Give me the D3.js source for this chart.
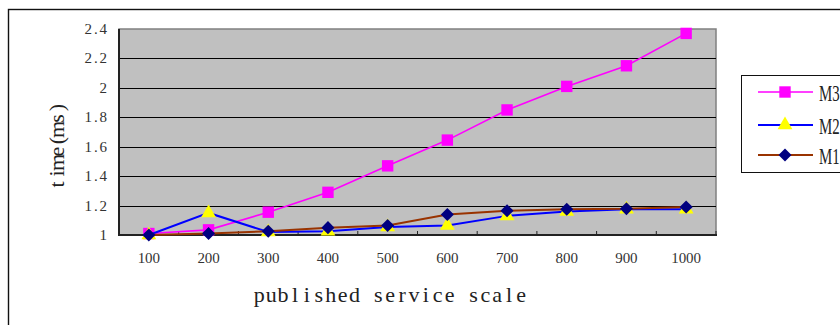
<!DOCTYPE html>
<html>
<head>
<meta charset="utf-8">
<script src="https://cdn.jsdelivr.net/npm/d3@7"></script>
<style>
  html, body { margin: 0; padding: 0; background: #fff; }
  svg { display: block; }
</style>
</head>
<body>
<svg id="chart" width="840" height="325"></svg>
<script>
// Service scale categories and response times (ms) for each method
const categories = ["100", "200", "300", "400", "500", "600", "700", "800", "900", "1000"];
const m3 = [1.01, 1.035, 1.155, 1.29, 1.47, 1.645, 1.85, 2.01, 2.15, 2.37];
const m2 = [1.0, 1.15, 1.02, 1.025, 1.055, 1.065, 1.13, 1.16, 1.175, 1.175];
const m1 = [1.0, 1.01, 1.025, 1.05, 1.065, 1.14, 1.165, 1.175, 1.178, 1.19];
const yTicks = [1, 1.2, 1.4, 1.6, 1.8, 2, 2.2, 2.4];
const seriesNames = ["M3", "M2", "M1"];
const xTitle = "published service scale";
const yTitle = "time(ms)";

const svg = d3.select("#chart");
const plot = { left: 119, right: 716, top: 29, bottom: 235 };

const x = d3.scaleBand().domain(categories).range([plot.left, plot.right]).padding(0);
const y = d3.scaleLinear().domain([1, 2.4]).range([plot.bottom, plot.top]);

// Fixed-advance text: each character centred in its own cell
function monoText(g, str, pos, advance, anchor) {
  const n = str.length;
  const w = n * advance;
  const start = anchor === "end" ? pos - w : anchor === "middle" ? pos - w / 2 : pos;
  const xs = d3.range(n).map(i => (start + (i + 0.5) * advance).toFixed(2));
  return g.append("text").attr("x", xs.join(" ")).attr("text-anchor", "middle").text(str);
}

// Outer frame
svg.append("rect")
  .attr("x", 8.5).attr("y", 9.5).attr("width", 850).attr("height", 340)
  .attr("fill", "none").attr("stroke", "#111").attr("stroke-width", 1.4);

// Plot background
svg.append("rect")
  .attr("x", plot.left).attr("y", plot.top)
  .attr("width", plot.right - plot.left).attr("height", plot.bottom - plot.top)
  .attr("fill", "#c0c0c0").attr("stroke", "#808080").attr("stroke-width", 1.5);

// Horizontal gridlines
svg.append("g").selectAll("line")
  .data(yTicks.filter(t => t > 1 && t < 2.4))
  .join("line")
  .attr("x1", plot.left).attr("x2", plot.right)
  .attr("y1", d => Math.round(y(d)) + 0.5).attr("y2", d => Math.round(y(d)) + 0.5)
  .attr("stroke", "#000").attr("stroke-width", 1);

// X axis: ticks at category boundaries, drawn inward
const xAxis = d3.axisBottom(x).tickSize(0).tickFormat("");
svg.append("g").attr("transform", `translate(0,${plot.bottom})`).call(xAxis)
  .call(g => g.select(".domain").remove());
const bounds = categories.slice(1).map(c => x(c)).concat([plot.right]);
svg.append("g").selectAll("line").data(bounds).join("line")
  .attr("x1", d => d).attr("x2", d => d)
  .attr("y1", plot.bottom).attr("y2", plot.bottom - 4)
  .attr("stroke", "#222").attr("stroke-width", 1);

// Axis lines
svg.append("line").attr("x1", plot.left).attr("x2", plot.left)
  .attr("y1", plot.top).attr("y2", plot.bottom + 1)
  .attr("stroke", "#222").attr("stroke-width", 2);
svg.append("line").attr("x1", plot.left).attr("x2", plot.right + 1)
  .attr("y1", plot.bottom).attr("y2", plot.bottom)
  .attr("stroke", "#222").attr("stroke-width", 2);

// Tick labels
const labelG = svg.append("g")
  .attr("font-family", "'Liberation Serif', 'DejaVu Serif', serif")
  .attr("font-size", 15).attr("fill", "#333");
yTicks.forEach(t => {
  monoText(labelG, d3.format("")(+t.toFixed(1)), 107, 7.5, "end")
    .attr("y", y(t) + 5);
});
categories.forEach(c => {
  monoText(labelG, c, x(c) + x.bandwidth() / 2, 7.4, "middle")
    .attr("y", 263);
});

// Axis titles
const titleG = svg.append("g")
  .attr("font-family", "'Liberation Serif', 'DejaVu Serif', serif")
  .attr("font-size", 22).attr("fill", "#222");
monoText(titleG, xTitle, 253.3, 11.9, "start").attr("y", 302);
const yt = titleG.append("g").attr("transform", "translate(64,146) rotate(-90)");
monoText(yt, yTitle, 0, 11, "middle").attr("y", 0);

// Marker shapes
const diamond = {
  draw(ctx, size) {
    const r = Math.sqrt(size / 2);
    ctx.moveTo(0, -r); ctx.lineTo(r, 0); ctx.lineTo(0, r); ctx.lineTo(-r, 0); ctx.closePath();
  }
};

// Series
const series = [
  { name: "M3", values: m3, line: "#ff00ff", fill: "#ff00ff", shape: d3.symbolSquare, size: 130, width: 1.6 },
  { name: "M2", values: m2, line: "#0000ff", fill: "#ffff00", shape: d3.symbolTriangle, size: 95, width: 2 },
  { name: "M1", values: m1, line: "#993300", fill: "#000080", shape: diamond, size: 85, width: 2 }
];
const cx = c => x(c) + x.bandwidth() / 2;
const lineGen = d3.line().x((d, i) => cx(categories[i])).y(d => y(d));

series.forEach(s => {
  const g = svg.append("g");
  g.append("path").datum(s.values)
    .attr("d", lineGen).attr("fill", "none")
    .attr("stroke", s.line).attr("stroke-width", s.width);
  g.selectAll("path.mk").data(s.values).join("path")
    .attr("class", "mk")
    .attr("transform", (d, i) => `translate(${cx(categories[i])},${y(d)})`)
    .attr("d", d3.symbol().type(s.shape).size(s.size))
    .attr("fill", s.fill);
});

// Legend
const legend = svg.append("g");
legend.append("rect")
  .attr("x", 741.5).attr("y", 75.5).attr("width", 120).attr("height", 97)
  .attr("fill", "#fff").attr("stroke", "#111").attr("stroke-width", 1);
const legendY = { M3: 92, M2: 125, M1: 155 };
series.forEach(s => {
  const ly = legendY[s.name];
  legend.append("line").attr("x1", 758).attr("x2", 813).attr("y1", ly).attr("y2", ly)
    .attr("stroke", s.line).attr("stroke-width", s.width);
  legend.append("path")
    .attr("transform", `translate(785,${ly})`)
    .attr("d", d3.symbol().type(s.shape).size(s.size))
    .attr("fill", s.fill);
  legend.append("text")
    .attr("transform", `translate(819,${ly + 8.5}) scale(0.62,1)`)
    .attr("font-family", "'Liberation Serif', serif")
    .attr("font-size", 24).attr("fill", "#222")
    .text(s.name);
});
</script>
</body>
</html>
